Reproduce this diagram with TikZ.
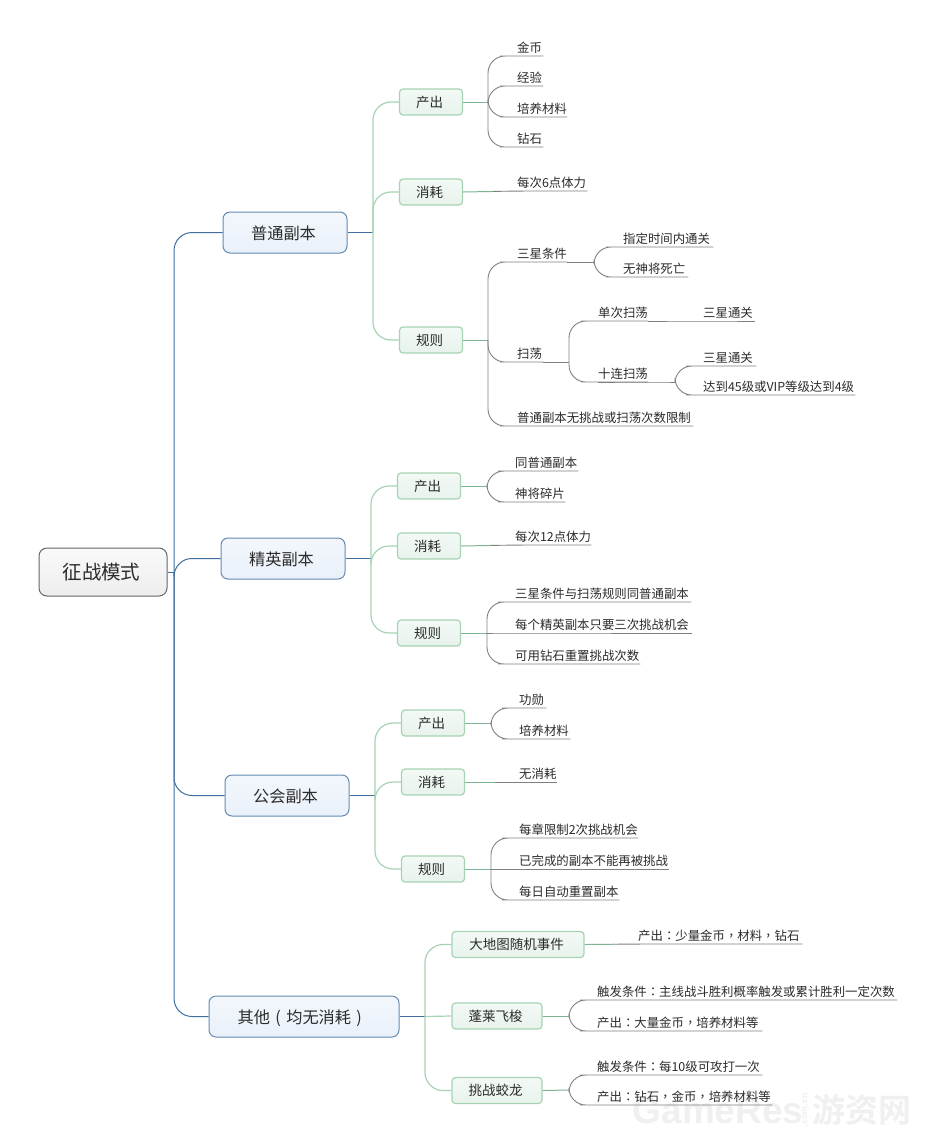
\documentclass[tikz,border=0pt]{standalone}
\usepackage{fontspec}
\usetikzlibrary{calc}
\setmainfont{Noto Sans CJK SC}
\newfontfamily\wmfont{Liberation Sans}[BoldFont={Liberation Sans Bold}]
\newfontfamily\wmcjk{Noto Sans CJK SC Bold}
\newfontfamily\tcp{Noto Sans CJK TC}
\newcommand{\cm}{{\tcp ，}}
\newcommand{\cl}{{\tcp ：}}
\newcommand{\lp}{\makebox[1em]{(}}
\newcommand{\rp}{\makebox[1em]{)}}
\definecolor{ink}{HTML}{2B2B2B}
\definecolor{bluel}{HTML}{3F6E9F}
\definecolor{greenl}{HTML}{A6D3B3}
\definecolor{greenh}{HTML}{7FB594}
\definecolor{leafl}{HTML}{808080}
\definecolor{wmark}{HTML}{F0F0F0}
\definecolor{maintop}{HTML}{F3F7FC}
\definecolor{mainbot}{HTML}{EAF1FA}
\definecolor{subtop}{HTML}{F3F9F5}
\definecolor{subbot}{HTML}{E8F3EC}
\definecolor{roottop}{HTML}{FAFAFA}
\definecolor{rootbot}{HTML}{EDEDED}
\tikzset{
  every node/.style={text=ink, font=\fontsize{12.4}{14}\selectfont},
  rootbox/.style={draw=black!60, line width=1pt, rounded corners=8pt, top color=roottop, bottom color=rootbot,
    minimum width=128pt, minimum height=48pt, inner sep=0pt, font=\fontsize{19.5}{22}\selectfont,
    execute at end node={\hspace{3pt}}},
  mainbox/.style={draw=bluel!80, line width=1pt, rounded corners=7pt, top color=maintop, bottom color=mainbot,
    minimum height=41pt, inner sep=0pt, font=\fontsize{16.2}{18}\selectfont, text height=16.2pt, text depth=2pt,
    execute at end node={\hspace{3pt}}},
  subbox/.style={draw=greenl, line width=1.2pt, rounded corners=3.5pt, top color=subtop, bottom color=subbot,
    minimum width=63pt, minimum height=26pt, inner sep=0pt, font=\fontsize{13.5}{16}\selectfont,
    execute at end node={\hspace{3pt}}},
  leaf/.style={anchor=south west, inner xsep=0pt, inner ysep=2pt, align=left},
  rootline/.style={bluel, line width=1pt, rounded corners=18pt},
  branchstub/.style={bluel, line width=1pt},
  subline/.style={greenl, line width=1.2pt, rounded corners=18pt},
  stemline/.style={greenh, line width=1pt},
  leafline/.style={leafl, line width=.9pt, rounded corners=17pt},
  wmlatin/.style={text=wmark, font=\wmfont\bfseries\fontsize{37}{40}\selectfont},
  wmhan/.style={text=wmark, font=\wmcjk\fontsize{33}{36}\selectfont},
  wmsmall/.style={text=wmark, rotate=90, font=\wmfont\bfseries\fontsize{9}{10}\selectfont},
}
\begin{document}
\begin{tikzpicture}[x=1pt,y=-1pt]
\useasboundingbox[fill=white] (0,0) rectangle (935,1144);

% ---------- watermark (behind everything)
\node[wmlatin] (wm1) at (718,1111) {GameRes};
\node[wmhan]   (wm2) at (862,1110) {游资网};
\node[wmsmall] (wm3) at (805,1110) {.com.cn};

% ---------- boxes
\node[rootbox] (root) at (103,572) {征战模式};
\node[mainbox, minimum width=124pt] (pt) at (285,232.5) {普通副本};
\node[mainbox, minimum width=124pt] (jy) at (283,558.5) {精英副本};
\node[mainbox, minimum width=124pt] (gh) at (287,795.5) {公会副本};
\node[mainbox, minimum width=190pt] (qt) at (304,1016.5) {其他\lp 均无消耗\rp};

\node[subbox] (pa) at (431,102) {产出};
\node[subbox] (pb) at (431,192) {消耗};
\node[subbox] (pc) at (431,340) {规则};
\node[subbox] (ja) at (429,486) {产出};
\node[subbox] (jb) at (429,546) {消耗};
\node[subbox] (jc) at (429,633) {规则};
\node[subbox] (ga) at (433,723) {产出};
\node[subbox] (gb) at (433,782) {消耗};
\node[subbox] (gc) at (433,869) {规则};
\node[subbox, minimum width=132pt] (qa) at (518,944.5) {大地图随机事件};
\node[subbox, minimum width=90pt] (qb) at (497,1016) {蓬莱飞梭};
\node[subbox, minimum width=90pt] (qc) at (497,1090.5) {挑战蛟龙};

% ---------- leaves (anchor: left end of the underline)
\node[leaf, text width=26pt] (pa1) at (517,56) {金币};
\node[leaf, text width=26pt] (pa2) at (517,86) {经验};
\node[leaf, text width=50pt] (pa3) at (517,117) {培养材料};
\node[leaf, text width=26pt] (pa4) at (517,147) {钻石};
\node[leaf, text width=70pt] (pb1) at (517,191) {每次6点体力};
\node[leaf, text width=50pt] (pc1) at (517,262) {三星条件};
\node[leaf, text width=26pt] (pc2) at (517,362) {扫荡};
\node[leaf, text width=176pt] (pc3) at (517,426) {普通副本无挑战或扫荡次数限制};
\node[leaf, text width=90pt] (pc11) at (623,247) {指定时间内通关};
\node[leaf, text width=65pt] (pc12) at (623,277) {无神将死亡};
\node[leaf, text width=50pt] (pc21) at (598,321) {单次扫荡};
\node[leaf, text width=50pt] (pc22) at (598,382) {十连扫荡};
\node[leaf, text width=52pt] (pc211) at (703,321) {三星通关};
\node[leaf, text width=53pt] (pc221) at (703,366) {三星通关};
\node[leaf, text width=152pt] (pc222) at (703,395) {达到45级或VIP等级达到4级};

\node[leaf, text width=63pt] (ja1) at (515,471) {同普通副本};
\node[leaf, text width=50pt] (ja2) at (515,502) {神将碎片};
\node[leaf, text width=76pt] (jb1) at (515,545) {每次12点体力};
\node[leaf, text width=176pt] (jc1) at (515,602) {三星条件与扫荡规则同普通副本};
\node[leaf, text width=177pt] (jc2) at (515,633) {每个精英副本只要三次挑战机会};
\node[leaf, text width=125pt] (jc3) at (515,664) {可用钻石重置挑战次数};

\node[leaf, text width=27pt] (ga1) at (519,708) {功勋};
\node[leaf, text width=51pt] (ga2) at (519,739) {培养材料};
\node[leaf, text width=38pt] (gb1) at (519,782) {无消耗};
\node[leaf, text width=119pt] (gc1) at (519,838) {每章限制2次挑战机会};
\node[leaf, text width=150pt] (gc2) at (519,869) {已完成的副本不能再被挑战};
\node[leaf, text width=100pt] (gc3) at (519,900) {每日自动重置副本};

\node[leaf, text width=164pt] (qa1) at (638,944) {产出\cl 少量金币\cm 材料\cm 钻石};
\node[leaf, text width=300pt] (qb1) at (597,1000) {触发条件\cl 主线战斗胜利概率触发或累计胜利一定次数};
\node[leaf, text width=165pt] (qb2) at (597,1031) {产出\cl 大量金币\cm 培养材料等};
\node[leaf, text width=165pt] (qc1) at (597,1075) {触发条件\cl 每10级可攻打一次};
\node[leaf, text width=175pt] (qc2) at (597,1105) {产出\cl 钻石\cm 金币\cm 培养材料等};

% ---------- junctions
\coordinate (r0) at (174,572);
\coordinate (p0) at (373,232.5);
\coordinate (j0) at (371,558.5);
\coordinate (g0) at (375,795.5);
\coordinate (q0) at (425,1016.5);
\coordinate (paj) at (488,102);
\coordinate (pcj) at (488,340);
\coordinate (pc1j) at (594,262);
\coordinate (pc2j) at (569,362);
\coordinate (pc22j) at (675,382);
\coordinate (jaj) at (487,486);
\coordinate (jcj) at (487,633);
\coordinate (gaj) at (491,723);
\coordinate (gcj) at (491,869);
\coordinate (qbj) at (569,1016);
\coordinate (qcj) at (569,1090);

% ---------- root level
\draw[branchstub] (root.east) -- (r0);
\foreach \c in {pt,jy,gh,qt} \draw[rootline] (r0) |- (\c.west);

% ---------- second level
\foreach \j/\a/\b/\c/\m in {p0/pa/pb/pc/pt,j0/ja/jb/jc/jy,g0/ga/gb/gc/gh,q0/qa/qb/qc/qt}{
  \draw[branchstub] (\m.east) -- (\j);
  \draw[subline] (\j) |- (\a.west);
  \draw[subline] (\j) |- (\c.west);
}
\draw[subline] (p0) |- (pb.west);
\draw[subline] (j0) |- (jb.west);
\draw[subline] (g0) |- (gb.west);
\draw[subline] (q0) -- (qb.west);

% ---------- stems from second level boxes
\foreach \b/\j in {pa/paj,pc/pcj,ja/jaj,jc/jcj,ga/gaj,gc/gcj,qb/qbj,qc/qcj}
  \draw[stemline] (\b.east) -- (\j);

% ---------- leaf connectors
\foreach \j/\l in {paj/pa1,paj/pa2,paj/pa3,paj/pa4,pcj/pc1,pcj/pc2,pcj/pc3,
  pc1j/pc11,pc1j/pc12,pc2j/pc21,pc2j/pc22,pc22j/pc221,pc22j/pc222,
  jaj/ja1,jaj/ja2,jcj/jc1,jcj/jc3,gaj/ga1,gaj/ga2,gcj/gc1,gcj/gc3,
  qbj/qb1,qbj/qb2,qcj/qc1,qcj/qc2}
  \draw[leafline] (\j) |- (\l.south west) -- (\l.south east);
\draw[leafline] (jcj) -- (jc2.south west) -- (jc2.south east);
\draw[leafline] (gcj) -- (gc2.south west) -- (gc2.south east);
\draw[leafline] (pc1.south east) -- (pc1j);
\draw[leafline] (pc2.south east) -- (pc2j);
\draw[leafline] (pc22.south west) -- (pc22.south east) -- (pc22j);
\draw[leafline] (pc21.south east) -- (pc211.south west) -- (pc211.south east);
% single-child branches: green leaving the box, grey reaching the text
\foreach \b/\l in {pb/pb1,jb/jb1,gb/gb1,qa/qa1}{
  \draw[stemline] (\b.east) -- ($(\b.east)!.55!(\l.south west)$);
  \draw[leafline] ($(\b.east)!.55!(\l.south west)$) -- (\l.south west) -- (\l.south east);
}
\end{tikzpicture}
\end{document}
